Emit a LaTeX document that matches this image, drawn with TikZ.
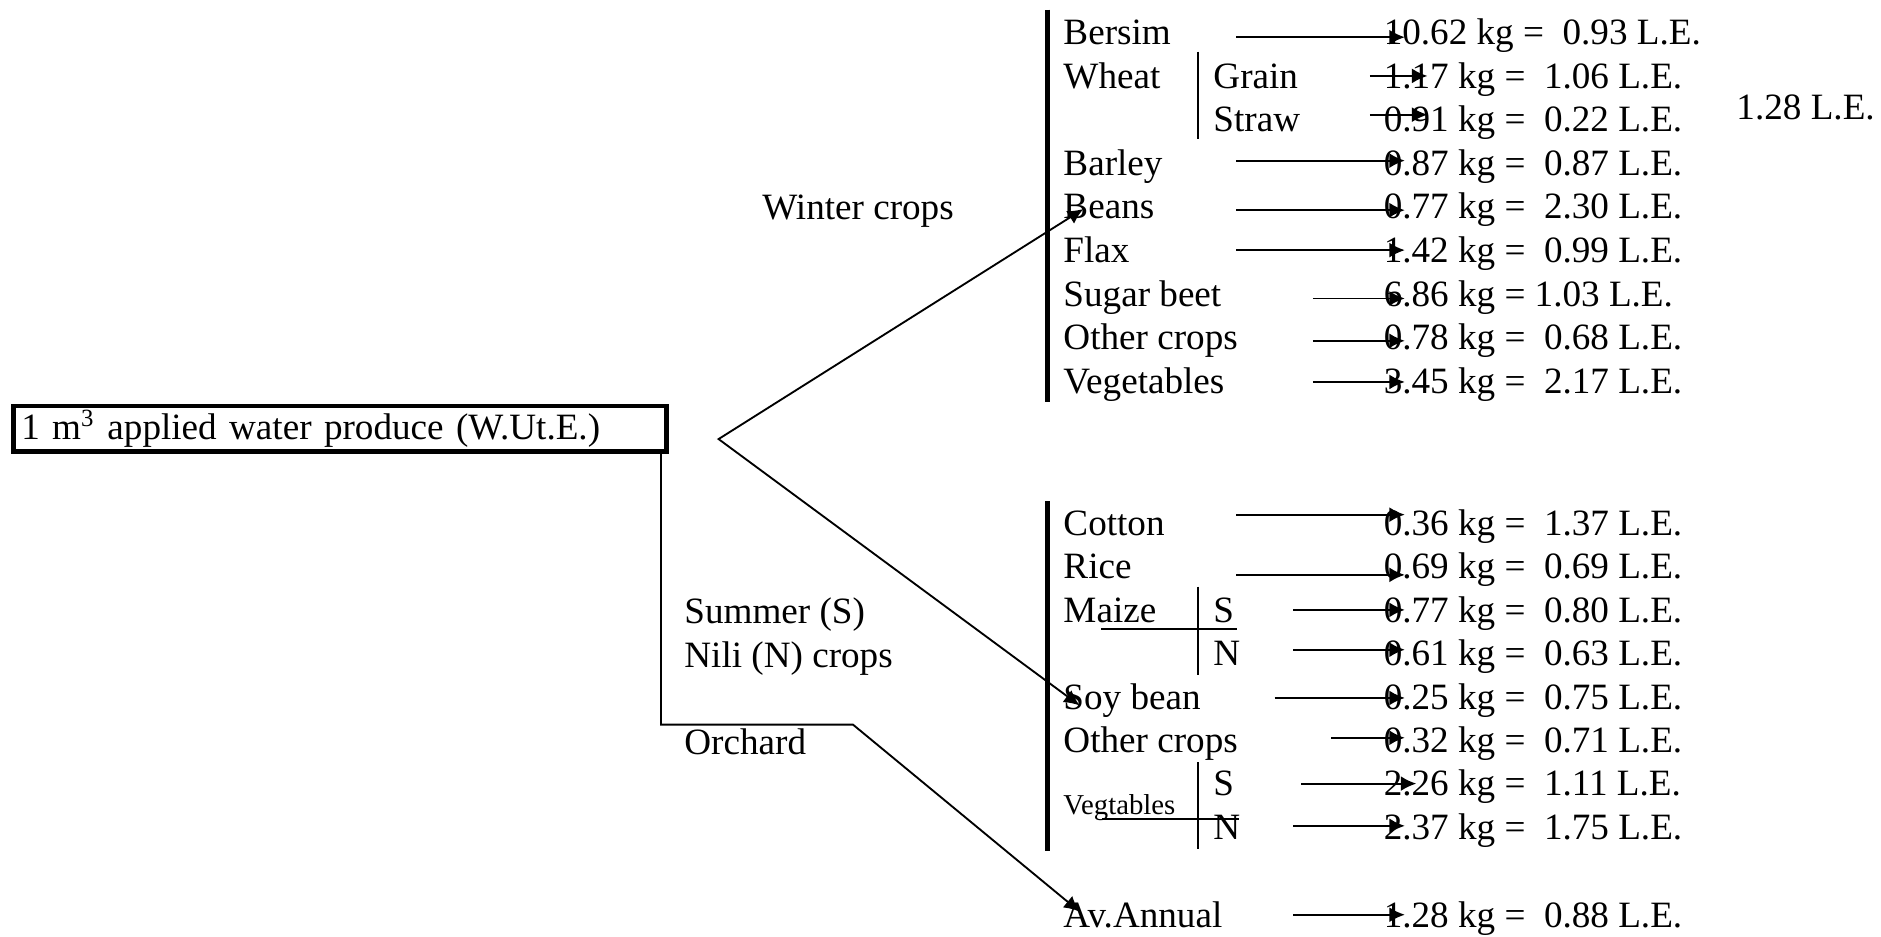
\documentclass[tikz,border=0pt]{standalone}
\usepackage{fontspec}
\setmainfont{Liberation Serif}
\usetikzlibrary{arrows.meta}
\begin{document}
\begin{tikzpicture}[x=.3876pt,y=-.3876pt,
 font=\fontsize{12pt}{14pt}\selectfont,
 >={Latex[length=5pt,width=4.8pt]},
 tx/.style={anchor=west,inner sep=0pt,text height=8pt,text depth=0pt},
 arr/.style={->,line width=.6pt,shorten >=-7pt}]
 \useasboundingbox (0,0) rectangle (1568,781);
 \node[draw,line width=1.5pt,inner xsep=2.5pt,inner ysep=0pt,
  minimum height=14.7pt,text width=206pt,align=left] (root) at (283.5,357.5)
  {1 m\textsuperscript{3} applied water produce (W.Ut.E.)};
 \path
 (635,173) node[tx] (winter) {Winter crops}
 (570,509) node[tx] (summer) {Summer (S)}
 (570,546) node[tx] (nili) {Nili (N) crops}
 (570,619) node[tx] (orchard) {Orchard}
 (1447,89) node[tx] (total) {1.28 L.E.};
 \path % <<< winter crops
 (886,27) node[tx] (bersim) {Bersim} +(144.6,4) coordinate (aBersim)
  +(267,0) node[tx] (nBersim) {10.62 kg = \ 0.93 L.E.}
 ++(0,36.3) node[tx] (wheat) {Wheat} +(125,0) node[tx] (grain) {Grain}
  +(256,0) coordinate (aGrain) +(267,0) node[tx] (nGrain) {1.17 kg = \ 1.06 L.E.}
 ++(0,36.3) +(125,0) node[tx] (straw) {Straw}
  +(256,-4) coordinate (aStraw) +(267,0) node[tx] (nStraw) {0.91 kg = \ 0.22 L.E.}
 ++(0,36.3) node[tx] (barley) {Barley} +(144.6,-2) coordinate (aBarley)
  +(267,0) node[tx] (nBarley) {0.87 kg = \ 0.87 L.E.}
 ++(0,36.3) node[tx] (beans) {Beans} +(144.6,3) coordinate (aBeans)
  +(267,0) node[tx] (nBeans) {0.77 kg = \ 2.30 L.E.}
 ++(0,36.3) node[tx] (flax) {Flax} +(144.6,0) coordinate (aFlax)
  +(267,0) node[tx] (nFlax) {1.42 kg = \ 0.99 L.E.}
 ++(0,36.3) node[tx] (beet) {Sugar beet} +(208.4,4) coordinate (aBeet)
  +(267,0) node[tx] (nBeet) {6.86 kg = 1.03 L.E.}
 ++(0,36.3) node[tx] (otherW) {Other crops} +(208.4,3) coordinate (aOtherW)
  +(267,0) node[tx] (nOtherW) {0.78 kg = \ 0.68 L.E.}
 ++(0,36.3) node[tx] (vegW) {Vegetables} +(208.4,1) coordinate (aVegW)
  +(267,0) node[tx] (nVegW) {3.45 kg = \ 2.17 L.E.};
 \path % <<< summer / nili crops
 (886,436) node[tx] (cotton) {Cotton} +(144.6,-7) coordinate (aCotton)
  +(267,0) node[tx] (nCotton) {0.36 kg = \ 1.37 L.E.}
 ++(0,36.2) node[tx] (rice) {Rice} +(144.6,7) coordinate (aRice)
  +(267,0) node[tx] (nRice) {0.69 kg = \ 0.69 L.E.}
 ++(0,36.2) node[tx] (maize) {Maize} +(125,0) node[tx] (mS) {S}
  +(192,0) coordinate (aMS) +(267,0) node[tx] (nMS) {0.77 kg = \ 0.80 L.E.}
 ++(0,36.2) +(125,0) node[tx] (mN) {N}
  +(192,-3) coordinate (aMN) +(267,0) node[tx] (nMN) {0.61 kg = \ 0.63 L.E.}
 ++(0,36.2) node[tx] (soy) {Soy bean} +(176.5,1) coordinate (aSoy)
  +(267,0) node[tx] (nSoy) {0.25 kg = \ 0.75 L.E.}
 ++(0,36.2) node[tx] (otherS) {Other crops} +(223.7,-2) coordinate (aOtherS)
  +(267,0) node[tx] (nOtherS) {0.32 kg = \ 0.71 L.E.}
 ++(0,36.2) +(125,0) node[tx] (vS) {S}
  +(198.7,0) coordinate (aVS) +(267,0) node[tx] (nVS) {2.26 kg = \ 1.11 L.E.}
  +(0,18) node[tx,text height=6.1pt,font=\fontsize{9.3pt}{11pt}\selectfont] (vegS) {Vegtables}
 ++(0,36.2) +(125,0) node[tx] (vN) {N}
  +(192,-1) coordinate (aVN) +(267,0) node[tx] (nVN) {2.37 kg = \ 1.75 L.E.};
 \path % <<< orchard
 (886,762.5) node[tx] (av) {Av.Annual} +(192,0) coordinate (aAv)
  +(267,0) node[tx] (nAv) {1.28 kg = \ 0.88 L.E.};
 % bars
 \draw[line width=1.5pt] (873,8)--(873,335) (873,418)--(873,709);
 \draw[line width=.65pt] (999,43)--(999,116) (999,489)--(999,562.5) (999,635.6)--(999,708);
 \draw[line width=.55pt] (918,524.4)--(1031,524.4) (919,682.8)--(1033,682.8);
 \begin{scope}[arr]
 \draw (aBersim)--(nBersim.west |- aBersim);
 \draw[shorten >=-14.3pt] (aGrain)--(nGrain.west |- aGrain);
 \draw[shorten >=-14.3pt] (aStraw)--(nStraw.west |- aStraw);
 \draw (aBarley)--(nBarley.west |- aBarley);
 \draw (aBeans)--(nBeans.west |- aBeans);
 \draw (aFlax)--(nFlax.west |- aFlax);
 \draw (aBeet)--(nBeet.west |- aBeet);
 \draw (aOtherW)--(nOtherW.west |- aOtherW);
 \draw (aVegW)--(nVegW.west |- aVegW);
 \draw (aCotton)--(nCotton.west |- aCotton);
 \draw (aRice)--(nRice.west |- aRice);
 \draw (aMS)--(nMS.west |- aMS);
 \draw (aMN)--(nMN.west |- aMN);
 \draw (aSoy)--(nSoy.west |- aSoy);
 \draw (aOtherS)--(nOtherS.west |- aOtherS);
 \draw[shorten >=-10.7pt] (aVS)--(nVS.west |- aVS);
 \draw (aVN)--(nVN.west |- aVN);
 \draw (aAv)--(nAv.west |- aAv);
 \end{scope}
 % tree
 \coordinate (apex) at (599,366);
 \coordinate (elbow) at (551,604);
 \coordinate (knee) at (711,604);
 \draw[<->,line width=.6pt] ([xshift=6.6pt,yshift=-.8pt]beans.west)--(apex)
  --([xshift=5.4pt,yshift=-2.8pt]soy.west);
 \draw[->,line width=.6pt] (root.south -| elbow)--(elbow)--(knee)
  --([xshift=5.4pt,yshift=1pt]av.west);
\end{tikzpicture}
\end{document}
